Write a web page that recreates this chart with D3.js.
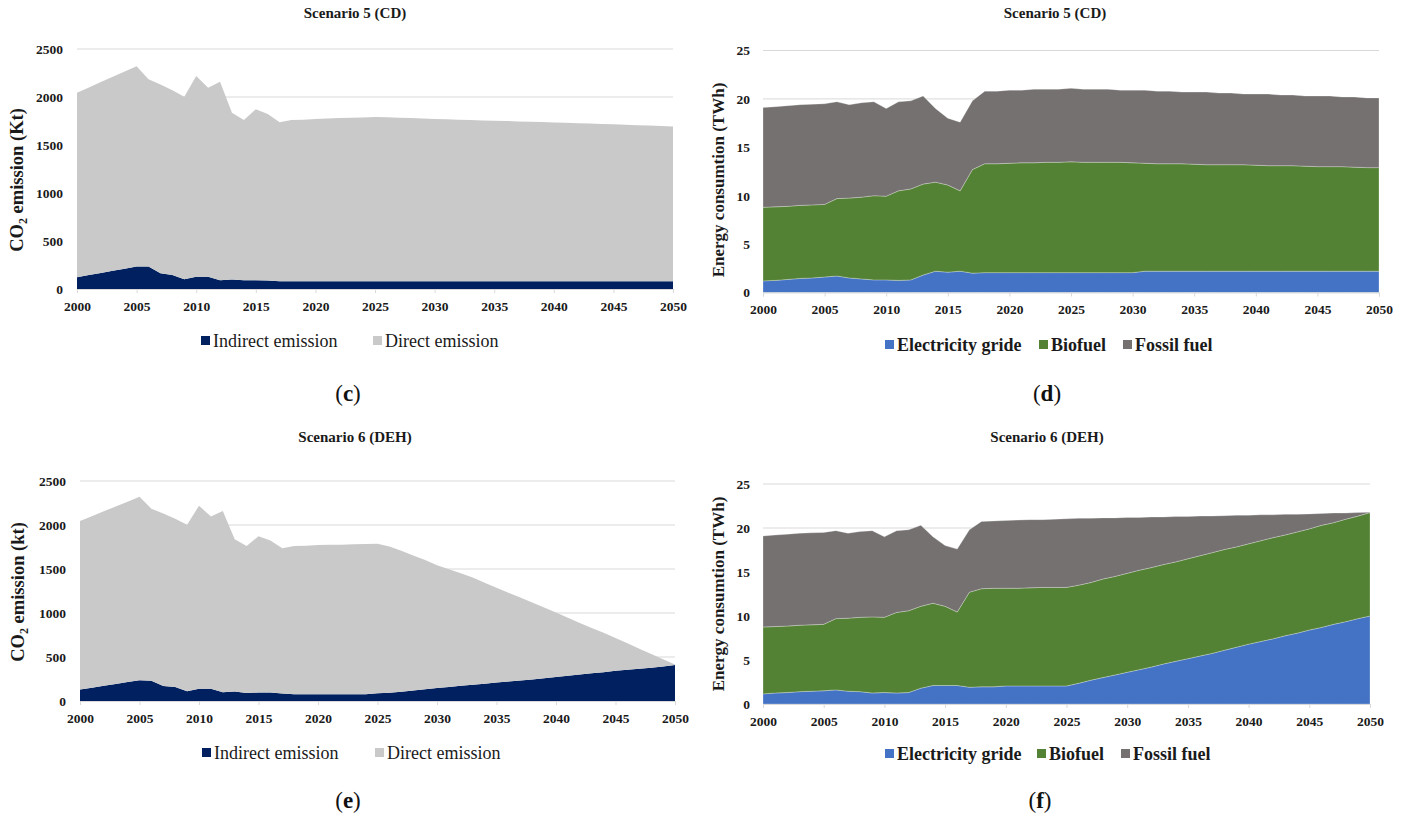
<!DOCTYPE html>
<html><head><meta charset="utf-8">
<script src="https://cdn.jsdelivr.net/npm/d3@7"></script>
<style>
html,body{margin:0;padding:0;background:#fff;}
svg{display:block;}
svg text{font-family:"Liberation Serif","Times New Roman",serif;}
</style></head>
<body><svg id="chart" width="1407" height="816"></svg>
<script>
const years = d3.range(2000, 2051);

// Scenario 5 (CD) emissions (kt)
const indirectCD = [122,145,167,190,212,235,235,163,145,101,128,127,90,100,90,90,88,80,80,80,80,80,80,80,80,80,80,80,80,80,80,80,80,80,80,80,80,80,80,80,80,80,80,80,80,80,80,80,80,80,80];
const directCD = [1923,1955,1988,2020,2053,2085,1949,1967,1925,1902,2091,1970,2070,1737,1670,1782,1735,1656,1680,1683,1691,1695,1701,1703,1706,1712,1708,1705,1702,1696,1690,1687,1684,1680,1675,1672,1670,1666,1663,1660,1655,1651,1647,1644,1640,1635,1631,1626,1623,1619,1612];

// Scenario 6 (DEH) emissions (kt)
const indirectDEH = [130,150,172,193,215,237,230,170,160,110,140,140,100,108,90,98,96,85,78,76,76,76,76,76,78,87,95,105,118,133,148,160,172,185,197,210,222,233,245,259,273,286,300,314,328,343,355,366,378,393,410];
const directDEH = [1915,1950,1983,2017,2050,2083,1954,1960,1910,1893,2079,1957,2060,1729,1670,1774,1727,1651,1682,1689,1696,1699,1699,1704,1707,1700,1660,1601,1536,1468,1394,1337,1279,1217,1148,1077,1008,942,874,804,734,660,585,516,447,374,300,229,157,82,5];

// Scenario 5 (CD) energy (TWh)
const elecCD = [1.2,1.25,1.35,1.45,1.5,1.6,1.7,1.5,1.4,1.3,1.3,1.25,1.3,1.8,2.2,2.1,2.2,2.0,2.05,2.05,2.05,2.05,2.05,2.05,2.05,2.05,2.05,2.05,2.05,2.05,2.05,2.2,2.2,2.2,2.2,2.2,2.2,2.2,2.2,2.2,2.2,2.2,2.2,2.2,2.2,2.2,2.2,2.2,2.2,2.2,2.2];
const bioCD = [7.6,7.6,7.55,7.55,7.55,7.5,8.0,8.25,8.45,8.7,8.65,9.25,9.4,9.4,9.2,9.0,8.3,10.7,11.25,11.25,11.3,11.35,11.35,11.4,11.4,11.45,11.4,11.4,11.4,11.4,11.35,11.15,11.1,11.1,11.1,11.05,11.0,11.0,11.0,11.0,10.95,10.9,10.9,10.9,10.85,10.8,10.8,10.8,10.75,10.7,10.7];
const fossilCD = [10.3,10.35,10.4,10.4,10.4,10.4,10.0,9.65,9.75,9.7,9.05,9.2,9.1,9.1,7.6,6.9,7.1,7.1,7.5,7.5,7.55,7.5,7.6,7.55,7.55,7.6,7.55,7.55,7.55,7.45,7.5,7.55,7.5,7.5,7.4,7.45,7.5,7.4,7.4,7.3,7.35,7.4,7.3,7.3,7.25,7.3,7.3,7.2,7.25,7.2,7.2];

// Scenario 6 (DEH) energy (TWh)
const elecDEH = [1.15,1.25,1.3,1.4,1.45,1.5,1.6,1.45,1.4,1.25,1.3,1.25,1.3,1.8,2.1,2.1,2.1,1.9,1.95,1.95,2.05,2.05,2.05,2.05,2.05,2.05,2.35,2.7,3.0,3.3,3.6,3.9,4.2,4.55,4.85,5.15,5.45,5.75,6.1,6.45,6.8,7.1,7.4,7.75,8.05,8.4,8.7,9.05,9.35,9.7,10.0];
const bioDEH = [7.6,7.55,7.55,7.55,7.55,7.55,8.1,8.3,8.45,8.65,8.55,9.15,9.3,9.3,9.35,9.0,8.35,10.8,11.15,11.2,11.1,11.1,11.15,11.2,11.2,11.2,11.15,11.1,11.2,11.2,11.25,11.3,11.3,11.3,11.3,11.35,11.4,11.45,11.45,11.4,11.4,11.45,11.5,11.45,11.5,11.5,11.6,11.55,11.65,11.65,11.75];
const fossilDEH = [10.35,10.4,10.45,10.45,10.45,10.45,10.0,9.65,9.75,9.8,9.15,9.3,9.2,9.2,7.55,6.9,7.15,7.1,7.65,7.65,7.7,7.75,7.75,7.7,7.75,7.8,7.6,7.3,6.95,6.65,6.35,6.0,5.75,5.4,5.15,4.8,4.5,4.15,3.85,3.6,3.25,2.95,2.6,2.35,2.0,1.7,1.35,1.1,0.7,0.4,0.05];

const xTicks = d3.range(2000, 2051, 5);
const co2Ticks = [0,500,1000,1500,2000,2500];
const energyTicks = [0,5,10,15,20,25];

const emissionKeys = ["Indirect emission","Direct emission"];
const energyKeys = ["Electricity gride","Biofuel","Fossil fuel"];
const colors = {
  "Indirect emission":"#002060","Direct emission":"#c9c9c9",
  "Electricity gride":"#4472c4","Biofuel":"#548235","Fossil fuel":"#767171"
};

const FONT = "Liberation Serif";
const svg = d3.select("#chart");

function panel(cfg){
  const g = svg.append("g").attr("font-family",FONT);
  const x = d3.scaleLinear().domain([2000,2050]).range([cfg.left,cfg.right]);
  const y = d3.scaleLinear().domain([0,cfg.ticks[cfg.ticks.length-1]]).range([cfg.bottom,cfg.top]);
  // grid
  g.append("g").selectAll("line").data(cfg.ticks.slice(1)).join("line")
    .attr("x1",cfg.left).attr("x2",cfg.right)
    .attr("y1",d=>y(d)).attr("y2",d=>y(d))
    .attr("stroke","#d9d9d9").attr("stroke-width",1);
  // data
  const rows = years.map((yr,i)=>{
    const o={year:yr}; cfg.keys.forEach((k,j)=>o[k]=cfg.series[j][i]); return o;
  });
  const stack = d3.stack().keys(cfg.keys)(rows);
  const area = d3.area().x(d=>x(d.data.year)).y0(d=>y(d[0])).y1(d=>y(d[1]));
  g.append("g").selectAll("path").data(stack).join("path")
    .attr("d",area).attr("fill",d=>colors[d.key])
    .attr("stroke", cfg.edge ? "rgba(255,255,255,0.45)" : "none")
    .attr("stroke-width",0.6);
  // x axis
  const xa = g.append("g").attr("transform",`translate(0,${cfg.bottom})`)
    .call(d3.axisBottom(x).tickValues(xTicks).tickFormat(d3.format("d")).tickSize(4).tickPadding(8));
  xa.attr("font-family",FONT);
  xa.select(".domain").attr("stroke","#d9d9d9");
  xa.selectAll(".tick line").attr("stroke","#d9d9d9");
  xa.selectAll("text").attr("font-family",FONT).attr("font-weight","bold")
    .attr("font-size",13.5).attr("fill","#1a1a1a");
  // y axis
  const ya = g.append("g").attr("transform",`translate(${cfg.left},0)`)
    .call(d3.axisLeft(y).tickValues(cfg.ticks).tickFormat(d3.format("d")).tickSize(0).tickPadding(cfg.pad));
  ya.attr("font-family",FONT);
  ya.select(".domain").remove();
  ya.selectAll("text").attr("font-family",FONT).attr("font-weight","bold")
    .attr("font-size",13.5).attr("fill","#1a1a1a");
  // title
  g.append("text").attr("x",cfg.titleX).attr("y",cfg.titleY).attr("text-anchor","middle")
    .attr("font-family",FONT).attr("font-size",15).attr("font-weight","bold").attr("fill","#1a1a1a").text(cfg.title);
  // y title
  const yt = g.append("text").attr("transform",`translate(${cfg.ytX},${cfg.ytY}) rotate(-90)`)
    .attr("text-anchor","middle").attr("font-family",FONT).attr("font-size",cfg.ytSize)
    .attr("font-weight","bold").attr("fill","#1a1a1a");
  if (cfg.co2){
    yt.append("tspan").text("CO");
    yt.append("tspan").attr("font-size",cfg.ytSize*0.65).attr("dy",4).text("2");
    yt.append("tspan").attr("dy",-4).text(" emission "+cfg.unit);
  } else yt.text(cfg.ytext);
  // legend
  const lg = g.append("g");
  cfg.keys.forEach((k,i)=>{
    const lx = cfg.legendX[i];
    lg.append("rect").attr("x",lx).attr("y",cfg.legendY-11).attr("width",9).attr("height",9).attr("fill",colors[k]);
    lg.append("text").attr("x",lx+12).attr("y",cfg.legendY).attr("font-family",FONT).attr("font-size",18)
      .attr("font-weight",cfg.legendBold?"bold":"normal").attr("fill","#1a1a1a").text(k);
  });
  // panel label
  const pl = g.append("text").attr("x",cfg.labelX).attr("y",cfg.labelY).attr("text-anchor","middle")
    .attr("font-family",FONT).attr("font-size",23).attr("fill","#111");
  pl.append("tspan").text("(");
  pl.append("tspan").attr("font-weight","bold").text(cfg.label);
  pl.append("tspan").text(")");
}

panel({left:77,right:673,bottom:289,top:49,ticks:co2Ticks,pad:14,keys:emissionKeys,series:[indirectCD,directCD],
  title:"Scenario 5 (CD)",titleX:355,titleY:18,co2:true,unit:"(Kt)",ytX:23,ytY:180,ytSize:18.5,
  legendX:[201,373],legendY:347,legendBold:false,label:"c",labelX:348,labelY:401});
panel({left:763,right:1379,bottom:292.5,top:50.5,ticks:energyTicks,pad:13,keys:energyKeys,series:[elecCD,bioCD,fossilCD],edge:true,
  title:"Scenario 5 (CD)",titleX:1055,titleY:18,ytext:"Energy consumtion (TWh)",ytX:724,ytY:180,ytSize:17,
  legendX:[885,1039,1123],legendY:351,legendBold:true,label:"d",labelX:1047,labelY:401});
panel({left:80,right:675,bottom:701,top:481,ticks:co2Ticks,pad:14,keys:emissionKeys,series:[indirectDEH,directDEH],
  title:"Scenario 6 (DEH)",titleX:355,titleY:442,co2:true,unit:"(kt)",ytX:24,ytY:592,ytSize:18.5,
  legendX:[202,375],legendY:759,legendBold:false,label:"e",labelX:348,labelY:808});
panel({left:763,right:1370,bottom:704,top:484,ticks:energyTicks,pad:13,keys:energyKeys,series:[elecDEH,bioDEH,fossilDEH],edge:true,
  title:"Scenario 6 (DEH)",titleX:1047,titleY:442,ytext:"Energy consumtion (TWh)",ytX:724,ytY:594,ytSize:17,
  legendX:[885,1037,1121],legendY:760,legendBold:true,label:"f",labelX:1040,labelY:808});
</script></body></html>
